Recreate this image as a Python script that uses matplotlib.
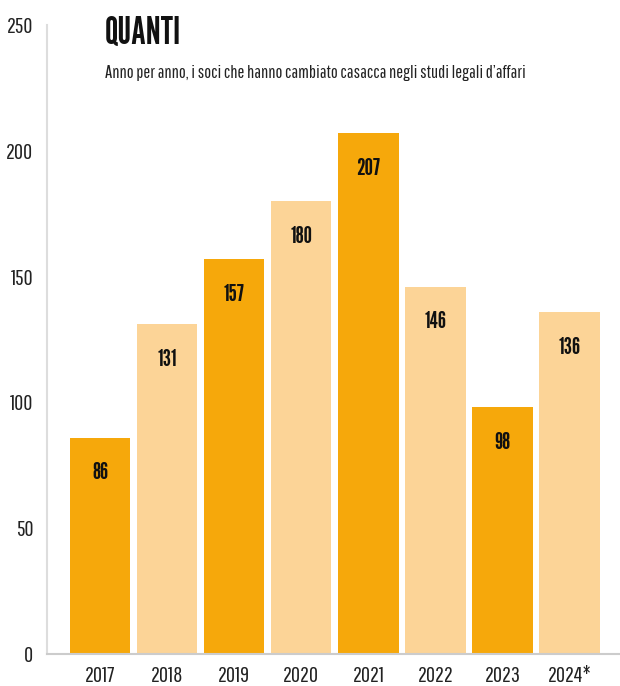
import matplotlib.pyplot as plt
import numpy as np

years = ['2017', '2018', '2019', '2020', '2021', '2022', '2023', '2024*']
soci = [86, 131, 157, 180, 207, 146, 98, 136]
yticks = [0, 50, 100, 150, 200, 250]

dark = '#F6A80B'
light = '#FCD497'

heavy = ['League Gothic', 'Roboto Condensed', 'DejaVu Sans']
thin = ['Pathway Gothic One', 'Roboto Condensed', 'DejaVu Sans']
plt.rcParams['font.family'] = thin

fig = plt.figure(figsize=(6.2, 6.86), dpi=100)
ax = fig.add_axes([47 / 620, 32 / 686, 1 - 47 / 620, 629 / 686])

x = np.arange(len(years))
colors = [dark if i % 2 == 0 else light for i in range(len(years))]
ax.bar(x, soci, width=0.9, color=colors, zorder=2)

# value labels inside bars
for xi, v in zip(x, soci):
    ax.text(xi, v - 14, str(v), ha='center', va='center', family=heavy,
            fontsize=17, color='#111111')

ax.set_xlim(-0.79, 7.75)
ax.set_ylim(0, 250)
ax.set_xticks(x)
ax.set_xticklabels(years, fontsize=16, color='#222222')
ax.set_yticks(yticks)
ax.set_yticklabels([str(t) for t in yticks], fontsize=16, color='#222222')
ax.tick_params(length=0, axis='x', pad=9)
ax.tick_params(length=0, axis='y', pad=10)

for s in ['top', 'right']:
    ax.spines[s].set_visible(False)
ax.spines['left'].set_color('#dddddd')
ax.spines['left'].set_linewidth(1.5)
ax.spines['bottom'].set_color('#cccccc')
ax.spines['bottom'].set_linewidth(1.5)

fig.text(105 / 620, 1 - 16 / 686, 'QUANTI', fontsize=27, family=heavy,
         ha='left', va='top', color='#111111')
fig.text(105 / 620, 1 - 73 / 686,
         "Anno per anno, i soci che hanno cambiato casacca negli studi legali d\u2019affari",
         fontsize=13.2, ha='left', va='center', color='#222222')

fig.savefig('out.png', dpi=100, facecolor='white')
